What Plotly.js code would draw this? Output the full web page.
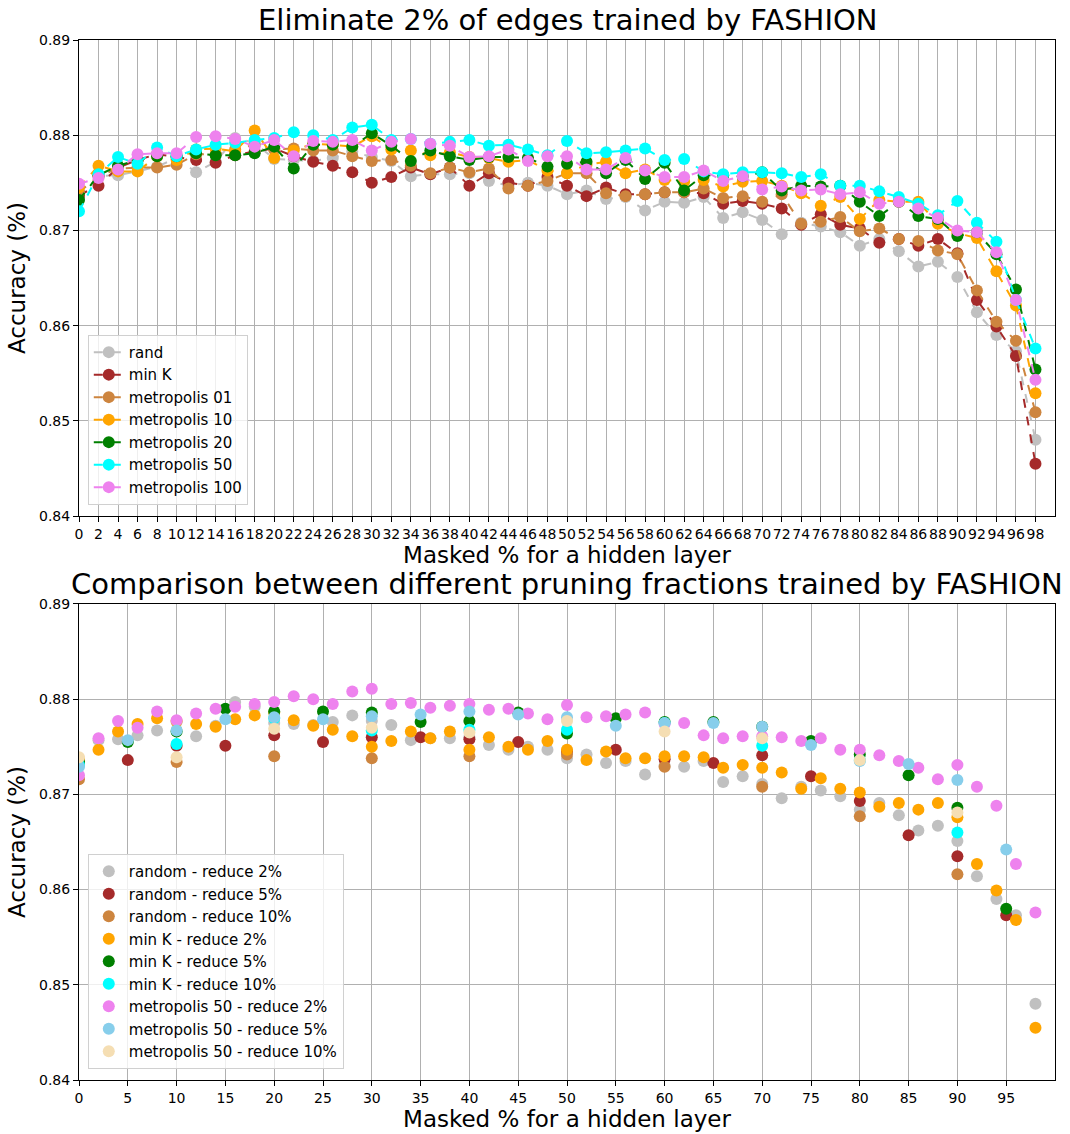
<!DOCTYPE html>
<html>
<head>
<meta charset="utf-8">
<script src="https://cdn.plot.ly/plotly-3.0.1.min.js"></script>
<style>html,body{margin:0;padding:0;background:#fff;}#chart{width:1070px;height:1134px;}</style>
</head>
<body>
<div id="chart"></div>
<script>
// ---------- Top chart: x every 2 ----------
const masked = [0,2,4,6,8,10,12,14,16,18,20,22,24,26,28,30,32,34,36,38,40,42,44,46,48,50,52,54,56,58,60,62,64,66,68,70,72,74,76,78,80,82,84,86,88,90,92,94,96,98];

const rand = [0.8735,0.8757,0.8758,0.8762,0.8767,0.8776,0.8761,0.8772,0.8797,0.8792,0.8775,0.8774,0.8773,0.8776,0.8783,0.8777,0.8773,0.8757,0.8759,0.8759,0.8760,0.8752,0.8747,0.8750,0.8747,0.8738,0.8742,0.8733,0.8735,0.8721,0.8730,0.8729,0.8735,0.8713,0.8719,0.8711,0.8696,0.8708,0.8704,0.8698,0.8684,0.8691,0.8678,0.8662,0.8667,0.8651,0.8614,0.8590,0.8573,0.8480];

const minK = [0.8737,0.8747,0.8766,0.8774,0.8780,0.8777,0.8774,0.8771,0.8779,0.8783,0.8786,0.8778,0.8772,0.8768,0.8761,0.8750,0.8756,0.8766,0.8759,0.8766,0.8747,0.8760,0.8750,0.8747,0.8756,0.8747,0.8736,0.8745,0.8738,0.8738,0.8740,0.8740,0.8739,0.8728,0.8731,0.8728,0.8723,0.8706,0.8717,0.8706,0.8702,0.8687,0.8691,0.8684,0.8691,0.8676,0.8627,0.8599,0.8568,0.8455];

const metro01 = [0.8740,0.8757,0.8765,0.8766,0.8766,0.8769,0.8780,0.8780,0.8785,0.8790,0.8785,0.8786,0.8784,0.8784,0.8778,0.8773,0.8774,0.8768,0.8760,0.8766,0.8761,0.8765,0.8744,0.8747,0.8752,0.8760,0.8760,0.8739,0.8736,0.8738,0.8740,0.8740,0.8744,0.8734,0.8736,0.8730,0.8738,0.8707,0.8709,0.8714,0.8699,0.8702,0.8691,0.8689,0.8679,0.8675,0.8637,0.8604,0.8584,0.8509];

const metro10 = [0.8745,0.8768,0.8762,0.8762,0.8778,0.8774,0.8785,0.8786,0.8783,0.8805,0.8776,0.8784,0.8791,0.8790,0.8788,0.8799,0.8785,0.8784,0.8779,0.8782,0.8777,0.8776,0.8772,0.8774,0.8763,0.8760,0.8769,0.8772,0.8760,0.8764,0.8753,0.8751,0.8753,0.8746,0.8751,0.8752,0.8747,0.8739,0.8726,0.8735,0.8712,0.8732,0.8730,0.8730,0.8707,0.8697,0.8692,0.8657,0.8621,0.8529];

const metro20 = [0.8732,0.8758,0.8768,0.8774,0.8778,0.8778,0.8781,0.8779,0.8779,0.8781,0.8788,0.8765,0.8790,0.8790,0.8788,0.8802,0.8789,0.8773,0.8784,0.8778,0.8774,0.8777,0.8777,0.8776,0.8767,0.8770,0.8772,0.8760,0.8774,0.8754,0.8771,0.8742,0.8758,0.8758,0.8757,0.8761,0.8742,0.8747,0.8746,0.8747,0.8730,0.8715,0.8730,0.8715,0.8712,0.8694,0.8698,0.8675,0.8638,0.8554];

const metro50 = [0.8720,0.8759,0.8777,0.8770,0.8787,0.8778,0.8785,0.8790,0.8792,0.8795,0.8797,0.8803,0.8800,0.8795,0.8808,0.8811,0.8795,0.8796,0.8791,0.8793,0.8795,0.8789,0.8790,0.8785,0.8779,0.8794,0.8781,0.8782,0.8784,0.8786,0.8774,0.8775,0.8762,0.8759,0.8761,0.8761,0.8760,0.8756,0.8759,0.8747,0.8747,0.8741,0.8735,0.8728,0.8716,0.8731,0.8708,0.8688,0.8627,0.8576];

const metro100 = [0.8749,0.8755,0.8764,0.8780,0.8781,0.8781,0.8798,0.8799,0.8796,0.8788,0.8795,0.8778,0.8794,0.8793,0.8795,0.8784,0.8793,0.8796,0.8791,0.8789,0.8777,0.8778,0.8785,0.8773,0.8778,0.8778,0.8764,0.8764,0.8776,0.8763,0.8756,0.8756,0.8763,0.8752,0.8757,0.8743,0.8746,0.8742,0.8743,0.8738,0.8740,0.8728,0.8730,0.8723,0.8713,0.8700,0.8698,0.8677,0.8627,0.8543];

// ---------- Bottom chart: other pruning fractions ----------
const masked5 = [0,5,10,15,20,25,30,35,40,45,50,55,60,65,70,75,80,85,90,95];
const masked10 = [0,10,20,30,40,50,60,70,80,90];

const random5 = [0.8732,0.8736,0.8751,0.8751,0.8762,0.8755,0.8760,0.8760,0.8758,0.8755,0.8745,0.8747,0.8737,0.8733,0.8741,0.8719,0.8693,0.8657,0.8635,0.8573];
const random10 = [0.8716,0.8734,0.8740,0.8738,0.8740,0.8742,0.8729,0.8708,0.8677,0.8616];
const minK5 = [0.8734,0.8755,0.8766,0.8790,0.8787,0.8787,0.8786,0.8776,0.8777,0.8786,0.8764,0.8780,0.8776,0.8776,0.8771,0.8756,0.8742,0.8720,0.8686,0.8580];
const minK10 = [0.8731,0.8753,0.8780,0.8767,0.8768,0.8768,0.8775,0.8751,0.8736,0.8660];
const metro50_5 = [0.8729,0.8757,0.8767,0.8779,0.8781,0.8779,0.8782,0.8784,0.8787,0.8784,0.8781,0.8772,0.8775,0.8775,0.8771,0.8752,0.8735,0.8732,0.8715,0.8642];
const metro50_10 = [0.8739,0.8739,0.8769,0.8770,0.8765,0.8777,0.8766,0.8759,0.8736,0.8681];

const topNames = ['rand','min K','metropolis 01','metropolis 10','metropolis 20','metropolis 50','metropolis 100'];
const topData = [rand, minK, metro01, metro10, metro20, metro50, metro100];
const topColors = ['#c0c0c0','#a52a2a','#cd853f','#ffa500','#008000','#00ffff','#ee82ee'];

const FONT = 'DejaVu Sans, sans-serif';
const traces = [];
topData.forEach((ys, i) => {
  traces.push({
    x: masked, y: ys, type: 'scatter', mode: 'lines+markers',
    name: topNames[i], legendgroup: 'g' + i,
    line: {color: topColors[i], dash: 'dash', width: 2},
    marker: {color: topColors[i], size: 12, line: {width: 0}},
    xaxis: 'x', yaxis: 'y', legend: 'legend'
  });
});

const botSeries = [
  ['random - reduce 2%', masked, rand, '#c0c0c0'],
  ['random - reduce 5%', masked5, random5, '#a52a2a'],
  ['random - reduce 10%', masked10, random10, '#cd853f'],
  ['min K - reduce 2%', masked, minK, '#ffa500'],
  ['min K - reduce 5%', masked5, minK5, '#008000'],
  ['min K - reduce 10%', masked10, minK10, '#00ffff'],
  ['metropolis 50 - reduce 2%', masked, metro50, '#ee82ee'],
  ['metropolis 50 - reduce 5%', masked5, metro50_5, '#87ceeb'],
  ['metropolis 50 - reduce 10%', masked10, metro50_10, '#f5deb3']
];
botSeries.forEach((s, i) => {
  traces.push({
    x: s[1], y: s[2], type: 'scatter', mode: 'markers',
    name: s[0], legendgroup: 'h' + i,
    marker: {color: s[3], size: 12, line: {width: 0}},
    xaxis: 'x2', yaxis: 'y2', legend: 'legend2'
  });
});

const topTicks = masked;
const botTicks = [0,5,10,15,20,25,30,35,40,45,50,55,60,65,70,75,80,85,90,95];
const yTicks = [0.84,0.85,0.86,0.87,0.88,0.89];

function xAxis(ticks, anchor) {
  return {
    range: [0, 100], tickvals: ticks, ticktext: ticks.map(String), anchor: anchor,
    tickangle: 0,
    showgrid: true, gridcolor: '#b0b0b0', gridwidth: 1, zeroline: false,
    showline: true, mirror: true, linecolor: '#000', linewidth: 1,
    ticks: 'outside', ticklen: 5, tickcolor: '#000',
    tickfont: {family: FONT, size: 14, color: '#000'},
    title: {text: 'Masked % for a hidden layer', font: {family: FONT, size: 23, color: '#000'}, standoff: 2},
    automargin: false
  };
}
function yAxis(domain, anchor) {
  return {
    domain: domain, range: [0.84, 0.89], tickvals: yTicks, ticktext: yTicks.map(v => v.toFixed(2)), anchor: anchor,
    showgrid: true, gridcolor: '#b0b0b0', gridwidth: 1, zeroline: false,
    showline: true, mirror: true, linecolor: '#000', linewidth: 1,
    ticks: 'outside', ticklen: 5, tickcolor: '#000',
    tickfont: {family: FONT, size: 14, color: '#000'},
    title: {text: 'Accuracy (%)', font: {family: FONT, size: 23, color: '#000'}, standoff: 6},
    automargin: false
  };
}

const legendBase = {
  bgcolor: 'rgba(255,255,255,0.8)', bordercolor: '#d0d0d0', borderwidth: 1,
  font: {family: FONT, size: 15, color: '#000'},
  xanchor: 'left', yanchor: 'bottom', tracegroupgap: 0
};

const layout = {
  width: 1070, height: 1134,
  margin: {l: 79, r: 15, t: 40, b: 54},
  paper_bgcolor: '#fff', plot_bgcolor: '#fff',
  font: {family: FONT, color: '#000'},
  showlegend: true,
  xaxis: xAxis(topTicks, 'y'),
  yaxis: yAxis([0.5423, 1], 'x'),
  xaxis2: xAxis(botTicks, 'y2'),
  yaxis2: yAxis([0, 0.4577], 'x2'),
  legend: Object.assign({}, legendBase, {x: 0.009, y: 0.553}),
  legend2: Object.assign({}, legendBase, {x: 0.009, y: 0.0105}),
  annotations: [
    {text: 'Eliminate 2% of edges trained by FASHION', xref: 'paper', yref: 'paper', x: 0.5, y: 1.0192,
     xanchor: 'center', yanchor: 'middle', showarrow: false, font: {family: FONT, size: 29, color: '#000'}},
    {text: 'Comparison between different pruning fractions trained by FASHION', xref: 'paper', yref: 'paper', x: 0.5, y: 0.4765,
     xanchor: 'center', yanchor: 'middle', showarrow: false, font: {family: FONT, size: 29, color: '#000'}}
  ]
};

Plotly.newPlot('chart', traces, layout, {displayModeBar: false, staticPlot: true});
</script>
</body>
</html>
